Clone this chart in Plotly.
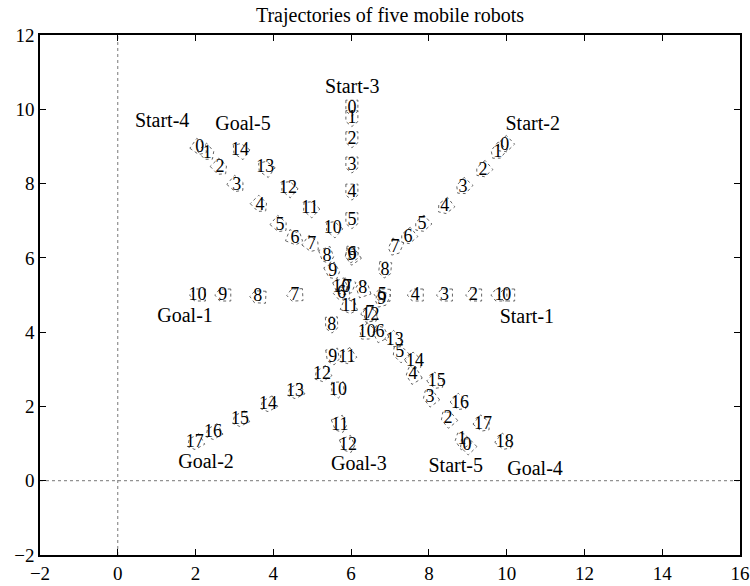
import numpy as np
import plotly.graph_objects as go

# Robot trajectories (step positions)
r1_x = [10.0, 9.8, 9.15, 8.4, 7.65, 6.8, 5.75, 4.55, 3.6, 2.7, 2.05]
r1_y = [5.0, 5.0, 5.0, 5.0, 5.0, 5.0, 5.05, 5.0, 4.95, 5.0, 5.0]

r2_x = [9.95, 9.77, 9.39, 8.88, 8.41, 7.82, 7.46, 7.13, 6.87, 6.79, 6.4, 5.89, 5.25, 4.56, 3.86, 3.14, 2.45, 1.98]
r2_y = [9.03, 8.85, 8.36, 7.9, 7.37, 6.89, 6.56, 6.27, 5.67, 4.87, 3.98, 3.33, 2.85, 2.39, 2.04, 1.64, 1.29, 1.02]

r3_x = [6.02, 6.02, 6.02, 6.02, 6.02, 6.02, 6.02, 5.9, 5.5, 5.53, 5.66, 5.71, 5.92]
r3_y = [10.03, 9.75, 9.18, 8.5, 7.77, 7.0, 6.08, 5.2, 4.19, 3.33, 2.44, 1.5, 0.96]

r4_x = [2.11, 2.3, 2.63, 3.06, 3.66, 4.17, 4.56, 4.99, 5.38, 5.53, 5.75, 5.97, 6.5, 7.12, 7.64, 8.2, 8.8, 9.39, 9.95]
r4_y = [8.96, 8.82, 8.42, 7.96, 7.42, 6.88, 6.53, 6.35, 6.05, 5.62, 5.2, 4.68, 4.45, 3.78, 3.2, 2.66, 2.09, 1.51, 1.02]

r5_x = [8.98, 8.85, 8.49, 8.03, 7.59, 7.25, 6.74, 6.48, 6.3, 6.02, 5.53, 4.94, 4.38, 3.79, 3.14]
r5_y = [0.96, 1.1, 1.68, 2.25, 2.86, 3.44, 3.98, 4.51, 5.18, 6.07, 6.8, 7.34, 7.88, 8.42, 8.9]

# Start / goal labels
lbl_text = ["Start-1", "Goal-1", "Start-2", "Goal-2", "Start-3", "Goal-3",
            "Start-4", "Goal-4", "Start-5", "Goal-5"]
lbl_x = [10.52, 1.73, 10.67, 2.27, 6.03, 6.2, 1.14, 10.73, 8.69, 3.22]
lbl_y = [4.37, 4.4, 9.58, 0.48, 10.57, 0.43, 9.66, 0.29, 0.38, 9.58]

x_ticks = list(range(-2, 17, 2))
y_ticks = list(range(-2, 13, 2))

robots = [(r1_x, r1_y), (r2_x, r2_y), (r3_x, r3_y), (r4_x, r4_y), (r5_x, r5_y)]

# plot-area pixel scale (used only to give the robot outlines a fixed pixel size)
PLOT_W, PLOT_H = 700, 520
XPX = PLOT_W / (16 - (-2))
YPX = PLOT_H / (12 - (-2))
SHAPE = [(-8, -6), (3, -6), (8, 0), (3, 6), (-8, 6)]


def outlines(xs, ys):
    ox, oy = [], []
    n = len(xs)
    for i in range(n):
        a, b = (i, i + 1) if i < n - 1 else (i - 1, i)
        dx = (xs[b] - xs[a]) * XPX
        dy = (ys[b] - ys[a]) * YPX
        th = np.arctan2(dy, dx)
        c, s = np.cos(th), np.sin(th)
        for u, v in SHAPE + [SHAPE[0]]:
            px = u * c - v * s
            py = u * s + v * c
            ox.append(xs[i] + px / XPX)
            oy.append(ys[i] + py / YPX)
        ox.append(None)
        oy.append(None)
    return ox, oy


fig = go.Figure()
serif = "Liberation Serif"

for xs, ys in robots:
    ox, oy = outlines(xs, ys)
    fig.add_trace(go.Scatter(x=ox, y=oy, mode="lines",
                             line=dict(color="#666666", width=1, dash="dot"),
                             hoverinfo="skip", showlegend=False))
for xs, ys in robots:
    fig.add_trace(go.Scatter(x=xs, y=ys, mode="text",
                             text=[str(i) for i in range(len(xs))],
                             textposition="middle center",
                             textfont=dict(family=serif, size=18, color="black"),
                             showlegend=False))

fig.add_trace(go.Scatter(x=lbl_x, y=lbl_y, mode="text", text=lbl_text,
                         textposition="middle center",
                         textfont=dict(family=serif, size=20, color="black"),
                         showlegend=False))

fig.add_vline(x=0, line=dict(color="#777777", width=1, dash="dot"), layer="below")
fig.add_hline(y=0, line=dict(color="#777777", width=1, dash="dot"), layer="below")

axis_common = dict(showgrid=False, zeroline=False, showline=True, linecolor="black",
                   linewidth=1.5, mirror="ticks", ticks="inside", ticklen=6,
                   tickcolor="black", tickwidth=1, automargin=False,
                   tickfont=dict(family=serif, size=19, color="black"))

fig.update_layout(
    width=750, height=586,
    margin=dict(l=40, r=10, t=35, b=31),
    paper_bgcolor="white", plot_bgcolor="white",
    title=dict(text="Trajectories of five mobile robots", x=0.52, xanchor="center",
               y=0.975, yanchor="middle",
               font=dict(family=serif, size=20, color="black")),
    xaxis=dict(range=[-2, 16], tickvals=x_ticks, **axis_common),
    yaxis=dict(range=[-2, 12], tickvals=y_ticks, **axis_common),
)

fig.write_html("out.html", config={"displayModeBar": False},
               post_script="document.body.style.margin='0';document.body.style.overflow='hidden';")
